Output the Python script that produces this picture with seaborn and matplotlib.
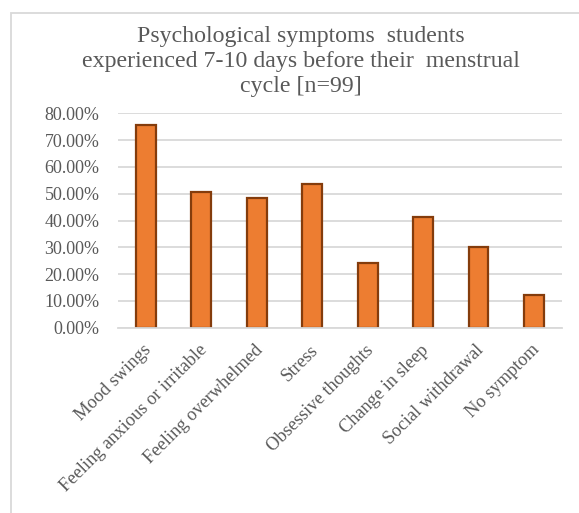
import matplotlib
matplotlib.use("Agg")
import matplotlib.pyplot as plt
import matplotlib.transforms as mtransforms
import seaborn as sns
import pandas as pd
from matplotlib.patches import Rectangle
from matplotlib.ticker import PercentFormatter

# values (count / 99 respondents)
symptoms = ["Mood swings", "Feeling anxious or irritable", "Feeling overwhelmed",
            "Stress", "Obsessive thoughts", "Change in sleep",
            "Social withdrawal", "No symptom"]
share = [0.7576, 0.5051, 0.4848, 0.5354, 0.2424, 0.4141, 0.3030, 0.1212]
y_ticks = [0.0, 0.1, 0.2, 0.3, 0.4, 0.5, 0.6, 0.7, 0.8]

def make_chart():
    sns.set_theme(style="white")
    plt.rcParams["font.family"] = ["Liberation Serif", "DejaVu Serif"]
    text_gray = "#595959"

    df = pd.DataFrame({"symptom": symptoms, "share": share})

    fig = plt.figure(figsize=(5.79, 5.13), dpi=100)
    # chart area border (runs off the right and bottom of the crop)
    fig.patches.append(Rectangle((11 / 579, -0.1), 1.2, 1 - 13 / 513 + 0.1,
                                 transform=fig.transFigure, fill=False,
                                 edgecolor="#d9d9d9", linewidth=1.3))
    ax = fig.add_axes([0.2043, 0.3612, 0.970 - 0.2043, 0.7791 - 0.3612])

    sns.barplot(data=df, x="symptom", y="share", color="#ED7D31",
                edgecolor="#843C0C", linewidth=1.6, width=0.36,
                saturation=1, ax=ax)

    ax.set_ylim(0, 0.8)
    ax.set_yticks(y_ticks)
    ax.yaxis.set_major_formatter(PercentFormatter(1.0, decimals=2))
    ax.set_xlim(-0.5, len(symptoms) - 0.5)
    ax.grid(axis="y", color="#d9d9d9", linewidth=1.3)
    ax.set_axisbelow(True)
    for s in ["left", "right", "top"]:
        ax.spines[s].set_visible(False)
    ax.spines["bottom"].set_color("#d9d9d9")
    ax.spines["bottom"].set_linewidth(1.3)
    ax.set_xlabel("")
    ax.set_ylabel("")

    ax.tick_params(axis="y", length=0, pad=13.5, labelsize=13, labelcolor=text_gray)
    ax.tick_params(axis="x", length=0, pad=10, labelsize=13.2, labelcolor=text_gray)
    shift = mtransforms.ScaledTranslation(-3 / 100, 0, fig.dpi_scale_trans)
    for lab in ax.get_xticklabels():
        lab.set_rotation(45)
        lab.set_ha("right")
        lab.set_va("top")
        lab.set_rotation_mode("anchor")
        lab.set_transform(lab.get_transform() + shift)

    fig.text(301 / 579, 1 - 26 / 513,
             "Psychological symptoms  students\n"
             "experienced 7-10 days before their  menstrual\n"
             "cycle [n=99]",
             ha="center", va="top", fontsize=17.2, color=text_gray,
             linespacing=1.25)

    fig.savefig("out.png", dpi=100)
    plt.close(fig)

if __name__ == "__main__":
    make_chart()
